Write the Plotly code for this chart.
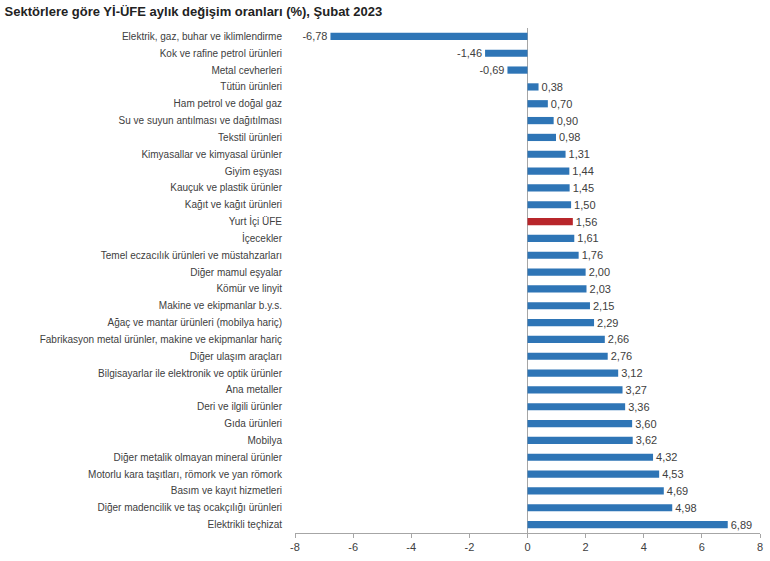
import plotly.graph_objects as go

categories = [
    "Elektrik, gaz, buhar ve iklimlendirme",
    "Kok ve rafine petrol ürünleri",
    "Metal cevherleri",
    "Tütün ürünleri",
    "Ham petrol ve doğal gaz",
    "Su ve suyun antılması ve dağıtılması",
    "Tekstil ürünleri",
    "Kimyasallar ve kimyasal ürünler",
    "Giyim eşyası",
    "Kauçuk ve plastik ürünler",
    "Kağıt ve kağıt ürünleri",
    "Yurt İçi ÜFE",
    "İçecekler",
    "Temel eczacılık ürünleri ve müstahzarları",
    "Diğer mamul eşyalar",
    "Kömür ve linyit",
    "Makine ve ekipmanlar b.y.s.",
    "Ağaç ve mantar ürünleri (mobilya hariç)",
    "Fabrikasyon metal ürünler, makine ve ekipmanlar hariç",
    "Diğer ulaşım araçları",
    "Bilgisayarlar ile elektronik ve optik ürünler",
    "Ana metaller",
    "Deri ve ilgili ürünler",
    "Gıda ürünleri",
    "Mobilya",
    "Diğer metalik olmayan mineral ürünler",
    "Motorlu kara taşıtları, römork ve yan römork",
    "Basım ve kayıt hizmetleri",
    "Diğer madencilik ve taş ocakçılığı ürünleri",
    "Elektrikli teçhizat",
]
values = [-6.78, -1.46, -0.69, 0.38, 0.70, 0.90, 0.98, 1.31, 1.44, 1.45, 1.50,
          1.56, 1.61, 1.76, 2.00, 2.03, 2.15, 2.29, 2.66, 2.76, 3.12, 3.27,
          3.36, 3.60, 3.62, 4.32, 4.53, 4.69, 4.98, 6.89]
highlight = "Yurt İçi ÜFE"
tick_values = [-8, -6, -4, -2, 0, 2, 4, 6, 8]
tick_labels = ["-8", "-6", "-4", "-2", "0", "2", "4", "6", "8"]

colors = ["#B8262B" if c == highlight else "#2E75B6" for c in categories]
texts = [f"{v:.2f}".replace(".", ",") for v in values]

fig = go.Figure(go.Bar(
    x=values, y=categories, orientation="h",
    marker=dict(color=colors, line=dict(width=0)),
    text=texts, textposition="outside", cliponaxis=False,
    constraintext="none",
    textfont=dict(family="Liberation Sans, Arial, sans-serif", size=11, color="#404040"),
    hoverinfo="x+y",
))

fig.update_layout(
    width=770, height=561,
    margin=dict(l=295, r=10, t=28, b=28),
    paper_bgcolor="white", plot_bgcolor="white",
    bargap=0.57,
    showlegend=False,
    title=dict(text="<b>Sektörlere göre Yİ-ÜFE aylık değişim oranları (%), Şubat 2023</b>",
               x=0.006, xanchor="left", y=0.987, yanchor="top",
               font=dict(family="Liberation Sans, Arial, sans-serif", size=13, color="#222222")),
    font=dict(family="Liberation Sans, Arial, sans-serif", size=10, color="#404040"),
)
fig.update_xaxes(
    range=[-8, 8], tickvals=tick_values, ticktext=tick_labels,
    showgrid=False, zeroline=True, zerolinecolor="#A6A6A6", zerolinewidth=1,
    showline=True, linecolor="#A6A6A6", linewidth=1,
    ticks="outside", ticklen=4, tickcolor="#A6A6A6",
    tickfont=dict(size=11, color="#404040"), automargin=False,
)
fig.update_yaxes(
    autorange="reversed", showgrid=False, showline=False, ticks="",
    ticklabelstandoff=12, tickfont=dict(size=10, color="#404040"),
    automargin=False,
)

fig.write_html("out.html", config={"displayModeBar": False},
               post_script="document.body.style.margin='0';")
